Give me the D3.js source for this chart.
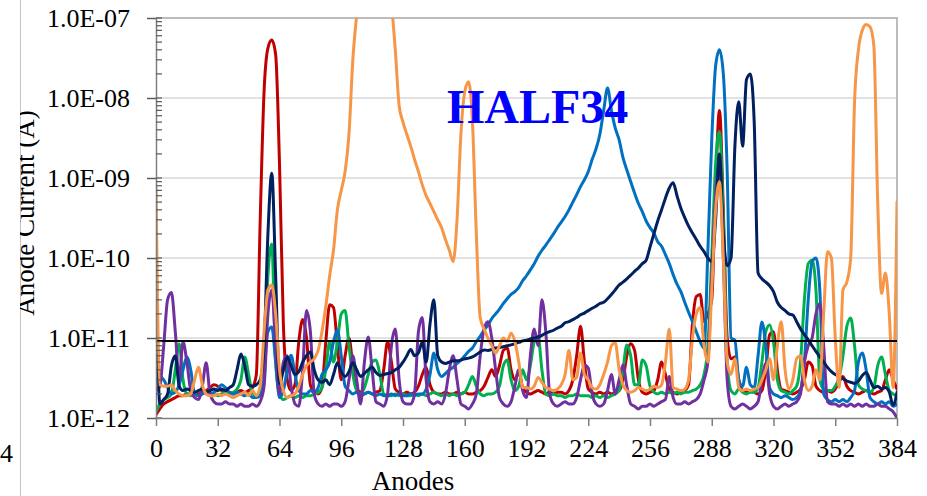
<!DOCTYPE html>
<html>
<head>
<meta charset="utf-8">
<script src="https://cdn.jsdelivr.net/npm/d3@7"></script>
<style>
  html, body { margin: 0; padding: 0; background: #fff; }
  svg { display: block; }
  text { font-family: "Liberation Serif", "Times New Roman", serif; }
</style>
</head>
<body>
<svg id="chart" width="927" height="496"></svg>
<script>
// Anode positions, every second anode from 0 to 384
const anodes = d3.range(0, 385, 2);

// Anode current per series, in pA (1 pA = 1.0E-12 A)
const seriesRed = [
  1.1,1.3,1.5,1.6,1.7,1.8,1.9,1.9,2.0,2.0,2.1,2.0,2.1,2.2,2.4,2.6,
  2.5,2.2,2.1,2.1,2.0,2.1,2.2,2.1,2.2,2.4,3.5,300,12000,42000,53000,35000,
  1500,15,3,2.2,2.6,9,17,10,2.6,2.1,2.0,2.4,9,26,24,8,
  3,6,10,4.5,2.3,2.1,2.0,2.1,2.0,2.1,2.2,4,9,5,2.3,2.1,
  2.0,2.1,2.0,2.1,2.5,3.5,4.3,2.6,2.1,2.0,2.0,2.1,2.0,2.0,2.1,2.0,
  2.1,2.0,2.0,2.1,2.2,2.5,3.2,4,3.3,4.5,7,7.5,4,3,3.8,2.4,
  2.1,2.0,2.1,2.2,2.1,2.0,2.1,2.0,2.1,2.1,2.0,2.2,3,6,14,5,
  2.3,2.1,2.0,2.1,2.0,2.1,2.0,2.1,2.2,3,6,8.5,7,3,2.1,2.0,
  2.1,2.2,3,5,3.5,2.3,2.1,2.0,2.1,2.2,2.6,15,33,35,16,20,
  30,800,7000,400,10,5.5,5.8,3,2.2,2.1,2.2,2.1,2.0,2.2,4,11,
  12,4,2.3,2.2,2.1,2.0,2.1,2.3,3,5,4.5,2.5,2.2,2.1,2.2,2.1,
  2.3,2.8,3.3,2.5,2.2,2.1,2.0,2.1,2.2,2.1,2.0,2.1,2.2,3,4,3,
  2.3
];
const seriesGreen = [
  1.2,1.5,1.7,1.8,2.0,4,8.5,3,2.0,1.9,2.0,1.9,2.0,2.1,2.0,2.0,
  1.9,2.0,2.1,2.0,2.1,2.3,3,5.8,3.5,2.0,1.9,2.0,3,60,150,5,
  2.0,1.7,1.8,1.9,1.8,1.9,1.8,1.9,1.9,2.0,2.1,2.4,4,9,5,9,
  20,22,8,3.5,2.2,2.0,2.4,3.5,5,5.3,3.5,2.0,1.9,1.9,2.0,1.9,
  2.0,1.9,1.9,2.0,1.9,2.0,1.9,2.0,2.1,2.0,1.9,2.0,1.9,2.0,1.9,2.0,
  2.1,2.6,3.3,2.5,2.0,1.9,2.0,2.0,2.1,2.5,4.5,5.3,3,2.2,2.5,4,
  3,4.5,9,10.3,4,2.0,1.9,2.0,1.9,1.9,1.8,1.9,1.9,2.0,1.9,1.9,
  1.9,1.8,1.9,1.8,1.9,1.8,1.9,2.0,2.2,4,8.2,6,2.6,2.6,5.3,4.5,
  2.5,2.1,2.0,2.1,2.0,2.1,2.0,2.1,2.0,2.1,2.1,2.2,2.3,2.6,3.5,8,
  100,1500,3800,300,5,2.2,2.0,2.3,2.1,2.0,2.1,2.1,2.4,5,12,14.5,
  9,3,2.2,2.1,2.0,2.2,2.5,5,30,85,94,40,3,2.3,2.2,2.2,
  2.5,3.2,6,14,17.8,8,2.6,2.3,2.2,2.1,2.4,4.5,5.8,3.5,2.2,2.0,
  1.9
];
const seriesLightBlue = [
  3.3,3.3,3.0,2.4,2.0,2.1,2.6,4,5.8,4,2.0,1.9,2.0,2.1,2.0,2.1,
  2.3,2.6,2.4,2.1,2.0,2.1,2.0,1.9,2.0,1.8,1.8,1.9,4,12,13.7,5,
  1.8,2.2,4,6.1,3.5,2.2,2.0,2.0,2.2,2.1,2.4,3.5,4,5,9,12.6,
  6,2.5,2.2,2.0,2.1,1.9,2.0,2.1,2.0,1.9,2.0,1.9,1.9,2.0,1.9,2.0,
  1.9,1.9,2.0,1.9,2.0,2.0,2.3,3.5,6.5,4,3.3,3.6,4.0,4.3,4.8,5.3,
  6,6.8,7.5,9,10.5,12.5,14.5,17.5,20,23,27,31,35,38,43,52,
  60,71,85,105,125,145,170,200,240,280,330,400,500,620,780,950,
  1200,1700,2300,3500,7000,13300,7000,4200,3000,1800,1260,900,650,480,380,290,
  240,205,160,140,110,85,62,47,38,28,21,16,12,9,7.5,126,
  3000,25000,40000,20000,1200,10,9.4,3,2.5,4.3,2.6,2.4,6,15.8,8,2.4,
  2.0,1.9,1.8,1.9,1.8,1.7,1.8,2.2,5,30,90,100,40,2,1.7,1.6,
  1.7,1.6,1.7,1.6,1.8,2.2,5,6.5,4,1.8,1.6,1.5,1.6,1.5,1.6,1.4,
  1.5
];
const seriesPurple = [
  2.2,2.5,8,30,37,12,3,9,5,2.2,1.8,1.7,2.5,4.9,2.0,1.6,
  1.5,1.5,1.6,1.5,1.5,1.4,1.5,1.4,1.4,1.5,1.4,1.6,2.5,20,40,8,
  2.0,5,6,2.5,1.5,1.4,4,22,12,2.0,1.5,1.4,1.5,1.4,1.5,1.5,
  1.4,1.6,3,6,3,1.5,5,10.3,4,1.6,1.5,1.4,2,8,13,3,
  1.6,1.5,1.5,2,12,18,3,1.6,1.5,1.6,1.5,2,4,6,3,1.5,
  1.4,1.3,1.5,2,6,13,16,10,4,1.8,1.5,1.4,1.6,2.5,4,2.2,
  1.8,6,13,8,30,12,2,1.5,1.4,1.5,1.6,1.5,1.5,1.8,3,4.6,
  4.2,2,1.5,1.4,1.5,2.2,3.5,2,3,4.6,2.5,1.5,1.4,1.3,1.4,1.4,
  1.5,1.4,1.5,1.6,1.7,3.3,1.8,1.5,1.5,1.6,1.5,1.6,1.7,2.0,3,5,
  60,600,1500,100,3,1.4,1.3,1.4,1.5,1.4,1.3,1.4,1.6,3,4.8,2,
  1.4,1.3,1.4,1.5,1.4,1.5,1.6,2,5,8,10,20,27,8,1.6,1.5,
  1.5,1.4,1.5,1.4,1.5,1.4,1.5,1.4,1.5,1.4,1.4,1.5,1.4,1.4,1.3,1.2,
  1.0
];
const seriesNavy = [
  90,1.5,1.7,2.0,4.5,6,2.5,2.2,2.3,2.2,2.1,2.2,2.3,2.1,2.2,2.3,
  2.2,2.3,2.2,2.4,2.6,4,6.3,4.5,2.6,2.5,2.6,3,8,200,1150,60,
  2.7,4,5.8,4.5,3.5,3.8,5,6,6.7,4,3,2.8,3,2.6,3.5,4.9,
  3.8,3.3,3.8,4.9,4,3.3,3.6,4,4.3,3.7,3.4,3.5,3.6,3.7,4,4.3,
  5,6,7.2,6,6.5,8.9,5,15,30,6,5,4.8,5,5.2,5.2,5.3,
  5.5,5.6,5.8,6.2,6.7,7.1,7,7.2,7.5,7.6,7.8,8,8.2,8.5,8.8,9.2,
  9.4,9.7,10,10.3,10.8,11.5,12,12.5,13.3,14,15.5,16,17,18,19.5,20.5,
  22,23.5,25,27,28,31,35,40,46,50,55,61,68,75,85,94,
  137,200,290,400,560,750,870,600,420,320,250,205,170,140,120,100,
  90,300,2000,200,80,100,2500,9000,2500,17000,20000,5000,65,55,50,45,
  38,28,24,22,20,19.4,16,13,11,9.5,8,6.8,5.8,5,4.3,3.8,
  3.5,3.3,3.1,2.9,2.8,2.7,2.9,3.4,3.7,3,2.4,2.5,2.3,2.4,2.1,1.45,
  2.1
];
const seriesOrange = [
  750,2.6,2.5,2.5,2.6,2.2,2.0,1.9,1.9,2.0,3,4.3,2.6,2.0,1.9,1.9,
  2.0,1.9,2.0,1.9,1.8,1.9,2.0,2.1,1.9,2.2,1.9,2.5,12,40,46,20,
  4,2.2,1.8,1.9,2.0,2.5,3.5,4.5,5,5.5,7,12,25,60,127,400,
  700,1200,3500,30000,110000,300000,500000,600000,600000,600000,500000,400000,300000,150000,40000,8000,
  5000,3500,2500,1700,1200,820,600,480,380,300,240,170,125,90,300,3500,
  12000,16000,5000,200,18,13,10,8,6.5,8,10,9,11.5,9,5,2.4,
  2.4,2.3,2.5,3.2,2.8,2.4,2.3,2.2,2.3,2.6,3.5,7,3,3.2,6.5,3.5,
  3,2.4,2.3,2.6,3.5,5,8,8.7,4,2.6,2.2,2.1,2.2,2.4,2.3,2.2,
  2.3,2.5,2.4,2.6,5,13,2.4,2.3,2.2,2.3,3,10,20,24,8,5,
  40,400,900,100,5,3.5,5.5,2.4,2.2,2.3,2.2,2.3,2.4,3,4,5.5,
  3,8,16,4,2.3,3,5.5,6,3,2.2,2.5,4,3,20,120,100,
  10,2.4,40,50,100,9000,40000,70000,83000,78000,45000,500,36,65,20,2.4,
  500
];

// Drawing order: later series sit on top
const seriesList = [
  { name: "red", color: "#c00000", values: seriesRed },
  { name: "green", color: "#00b050", values: seriesGreen },
  { name: "lightblue", color: "#0070c0", values: seriesLightBlue },
  { name: "purple", color: "#7030a0", values: seriesPurple },
  { name: "navy", color: "#002060", values: seriesNavy },
  { name: "orange", color: "#f79646", values: seriesOrange }
];

// Reference level, pA
const thresholdPA = [9.2];

// Axis ticks
const xTicks = d3.range(0, 385, 32);
const yDecades = [1, 10, 100, 1000, 10000, 100000];
const yTickLabels = ["1.0E-12", "1.0E-11", "1.0E-10", "1.0E-09", "1.0E-08", "1.0E-07"];

const W = 927, H = 496;
const plot = { left: 156, right: 897, top: 18, bottom: 418 };

const svg = d3.select("#chart");

const x = d3.scaleLinear().domain([0, 384]).range([plot.left, plot.right]);
const y = d3.scaleLog().domain([1, 1e5]).range([plot.bottom, plot.top]);

// Page edge on the left with the neighbouring panel's last label
svg.append("line")
  .attr("x1", 20.5).attr("x2", 20.5).attr("y1", 0).attr("y2", H)
  .attr("stroke", "#c4c4c4").attr("stroke-width", 1);
svg.append("text")
  .attr("x", 13).attr("y", 462)
  .attr("text-anchor", "end")
  .attr("font-size", 26)
  .text("4");

// Y axis title, cut by the panel edge
svg.append("clipPath").attr("id", "titleClip")
  .append("rect").attr("x", 20).attr("y", 0).attr("width", 60).attr("height", H);
svg.append("g")
  .attr("clip-path", "url(#titleClip)")
  .append("text")
  .attr("transform", `translate(34,${(plot.top + plot.bottom) / 2 - 5}) rotate(-90)`)
  .attr("text-anchor", "middle")
  .attr("font-size", 27)
  .text("Anode  Current (A)");

// Horizontal gridlines at each decade
svg.append("g")
  .selectAll("line")
  .data(yDecades.slice(1, -1))
  .join("line")
  .attr("x1", plot.left).attr("x2", plot.right)
  .attr("y1", d => y(d)).attr("y2", d => y(d))
  .attr("stroke", "#d9d9d9").attr("stroke-width", 1.5);

// Plot frame (top and right)
svg.append("path")
  .attr("d", `M${plot.left},${plot.top}H${plot.right}V${plot.bottom}`)
  .attr("fill", "none").attr("stroke", "#a6a6a6").attr("stroke-width", 1.5);

// Series
svg.append("clipPath").attr("id", "plotClip")
  .append("rect")
  .attr("x", plot.left).attr("y", plot.top)
  .attr("width", plot.right - plot.left).attr("height", plot.bottom - plot.top);

const line = d3.line()
  .x((d, i) => x(anodes[i]))
  .y(d => y(d))
  .curve(d3.curveMonotoneX);

svg.append("g")
  .attr("clip-path", "url(#plotClip)")
  .selectAll("path")
  .data(seriesList)
  .join("path")
  .attr("d", s => line(s.values))
  .attr("fill", "none")
  .attr("stroke", s => s.color)
  .attr("stroke-width", 3)
  .attr("stroke-linejoin", "round")
  .attr("stroke-linecap", "round");

// Reference level line
svg.append("g")
  .selectAll("line")
  .data(thresholdPA)
  .join("line")
  .attr("x1", plot.left).attr("x2", plot.right)
  .attr("y1", d => y(d)).attr("y2", d => y(d))
  .attr("stroke", "#000").attr("stroke-width", 2);

// Y axis (log), major ticks cross the axis line
const yAxis = d3.axisLeft(y)
  .tickValues(yDecades)
  .tickFormat((d, i) => yTickLabels[i])
  .tickSizeInner(9)
  .tickSizeOuter(0)
  .tickPadding(17);
const gy = svg.append("g")
  .attr("transform", `translate(${plot.left},0)`)
  .call(yAxis);
gy.select(".domain").attr("stroke", "#7f7f7f").attr("stroke-width", 1.5);
gy.selectAll(".tick line").attr("stroke", "#595959").attr("stroke-width", 1.5);
gy.selectAll(".tick text")
  .attr("font-family", "Liberation Serif, Times New Roman, serif")
  .attr("font-size", 26).attr("fill", "#000");

// Inner part of the major ticks and the minor ticks
const minorVals = [];
yDecades.slice(0, -1).forEach(d => { for (let m = 2; m <= 9; m++) minorVals.push(d * m); });
svg.append("g")
  .selectAll("line")
  .data(yDecades.concat(minorVals))
  .join("line")
  .attr("x1", plot.left).attr("x2", plot.left + 6)
  .attr("y1", d => y(d)).attr("y2", d => y(d))
  .attr("stroke", "#595959").attr("stroke-width", 1.2);

// X axis
const xAxis = d3.axisBottom(x)
  .tickValues(xTicks)
  .tickSizeInner(8)
  .tickSizeOuter(0)
  .tickPadding(13);
const gx = svg.append("g")
  .attr("transform", `translate(0,${plot.bottom})`)
  .call(xAxis);
gx.select(".domain").attr("stroke", "#7f7f7f").attr("stroke-width", 1.5);
gx.selectAll(".tick line").attr("stroke", "#7f7f7f").attr("stroke-width", 1.5);
gx.selectAll(".tick text")
  .attr("font-family", "Liberation Serif, Times New Roman, serif")
  .attr("font-size", 26).attr("fill", "#000");

svg.append("text")
  .attr("x", 413).attr("y", 490)
  .attr("text-anchor", "middle")
  .attr("font-size", 27)
  .text("Anodes");

// Chart label
svg.append("text")
  .attr("x", 447).attr("y", 123)
  .attr("font-size", 48)
  .attr("font-weight", "bold")
  .attr("fill", "#0000ff")
  .text("HALF34");
</script>
</body>
</html>
